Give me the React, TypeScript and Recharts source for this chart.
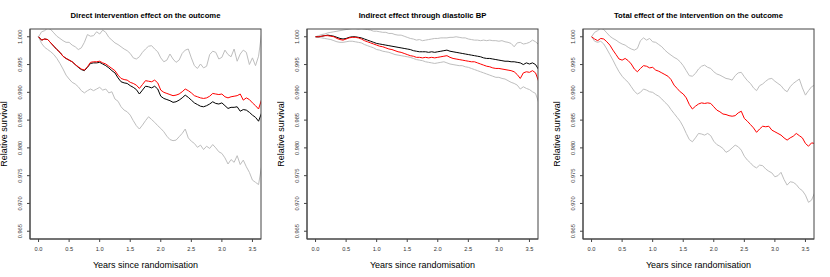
import { LineChart, Line, XAxis, YAxis } from "recharts"

// follow-up time grid (years since randomisation)
const years = [
  0, 0.05, 0.1, 0.15, 0.2, 0.25, 0.3, 0.35, 0.4, 0.45,
  0.5, 0.55, 0.6, 0.65, 0.7, 0.75, 0.8, 0.85, 0.9, 0.95,
  1.0, 1.05, 1.1, 1.15, 1.2, 1.25, 1.3, 1.35, 1.4, 1.45,
  1.5, 1.55, 1.6, 1.65, 1.7, 1.75, 1.8, 1.85, 1.9, 1.95,
  2.0, 2.05, 2.1, 2.15, 2.2, 2.25, 2.3, 2.35, 2.4, 2.45,
  2.5, 2.55, 2.6, 2.65, 2.7, 2.75, 2.8, 2.85, 2.9, 2.95,
  3.0, 3.05, 3.1, 3.15, 3.2, 3.25, 3.3, 3.35, 3.4, 3.45,
  3.5, 3.55, 3.6, 3.65,
]

const xTicks = [0, 0.5, 1, 1.5, 2, 2.5, 3, 3.5]
const yTicks = [0.965, 0.97, 0.975, 0.98, 0.985, 0.99, 0.995, 1.0]

// Direct effect
const directUpper = [
  1.0000, 1.0009, 1.0011, 1.0016, 1.0013, 1.0007, 1.0001, 0.9997, 0.9993, 0.9990,
  0.9990, 0.9985, 0.9982, 0.9977, 0.9980, 0.9990, 1.0004, 1.0001, 1.0002, 1.0009,
  1.0005, 1.0012, 1.0008, 0.9999, 0.9994, 0.9989, 0.9986, 0.9982, 0.9978, 0.9975,
  0.9970, 0.9962, 0.9960, 0.9964, 0.9972, 0.9978, 0.9983, 0.9984, 0.9978, 0.9973,
  0.9962, 0.9955, 0.9958, 0.9969, 0.9960, 0.9954, 0.9958, 0.9970, 0.9976, 0.9978,
  0.9962, 0.9948, 0.9943, 0.9951, 0.9944, 0.9947, 0.9968, 0.9974, 0.9972, 0.9960,
  0.9963, 0.9976, 0.9968, 0.9964, 0.9978, 0.9956, 0.9969, 0.9976, 0.9972, 0.9950,
  0.9962, 0.9948, 0.9965, 1.0006,
]
const directLower = [
  1.0000, 0.9988, 0.9981, 0.9977, 0.9973, 0.9968, 0.9961, 0.9952, 0.9942, 0.9931,
  0.9924, 0.9918, 0.9915, 0.9910, 0.9903, 0.9899, 0.9903, 0.9906, 0.9903, 0.9906,
  0.9909, 0.9904, 0.9906, 0.9899, 0.9901, 0.9888, 0.9884, 0.9874, 0.9868, 0.9865,
  0.9859, 0.9849, 0.9840, 0.9834, 0.9841, 0.9849, 0.9856, 0.9851, 0.9846, 0.9840,
  0.9835, 0.9829, 0.9821, 0.9815, 0.9813, 0.9814, 0.9820, 0.9826, 0.9834, 0.9818,
  0.9812, 0.9808, 0.9801, 0.9805, 0.9797, 0.9803, 0.9799, 0.9806, 0.9800, 0.9793,
  0.9790, 0.9782, 0.9771, 0.9779, 0.9774, 0.9786, 0.9770, 0.9778, 0.9766, 0.9756,
  0.9742, 0.9738, 0.9734, 0.9767,
]
const directEst = [
  1.0000, 0.9994, 0.9996, 0.9995, 0.9989, 0.9983, 0.9977, 0.9972, 0.9965, 0.9961,
  0.9958, 0.9955, 0.9950, 0.9945, 0.9941, 0.9939, 0.9945, 0.9952, 0.9953, 0.9953,
  0.9954, 0.9951, 0.9948, 0.9944, 0.9939, 0.9935, 0.9926, 0.9919, 0.9917, 0.9916,
  0.9912, 0.9909, 0.9905, 0.9897, 0.9904, 0.9911, 0.9910, 0.9908, 0.9911, 0.9906,
  0.9893, 0.9889, 0.9887, 0.9885, 0.9882, 0.9883, 0.9886, 0.9890, 0.9895, 0.9891,
  0.9886, 0.9881, 0.9878, 0.9875, 0.9874, 0.9876, 0.9879, 0.9883, 0.9880, 0.9879,
  0.9881, 0.9876, 0.9871, 0.9873, 0.9873, 0.9874, 0.9866, 0.9869, 0.9868, 0.9864,
  0.9859, 0.9855, 0.9848, 0.9863,
]
const directAlt = [
  1.0000, 0.9994, 0.9996, 0.9995, 0.9989, 0.9983, 0.9977, 0.9972, 0.9965, 0.9961,
  0.9958, 0.9955, 0.9950, 0.9946, 0.9942, 0.9940, 0.9946, 0.9954, 0.9955, 0.9955,
  0.9956, 0.9953, 0.9951, 0.9947, 0.9943, 0.9939, 0.9931, 0.9925, 0.9923, 0.9922,
  0.9918, 0.9916, 0.9913, 0.9907, 0.9914, 0.9921, 0.9920, 0.9919, 0.9922, 0.9917,
  0.9904, 0.9900, 0.9898, 0.9896, 0.9894, 0.9895, 0.9897, 0.9901, 0.9906, 0.9903,
  0.9899, 0.9894, 0.9892, 0.9890, 0.9889, 0.9890, 0.9893, 0.9898, 0.9897, 0.9896,
  0.9897, 0.9892, 0.9890, 0.9892, 0.9893, 0.9894, 0.9897, 0.9886, 0.9890, 0.9887,
  0.9881, 0.9876, 0.9870, 0.9887,
]

// Indirect effect through diastolic BP
const indirectUpper = [
  1.0000, 1.0002, 1.0004, 1.0005, 1.0007, 1.0008, 1.0009, 1.0010, 1.0011, 1.0012,
  1.0013, 1.0014, 1.0015, 1.0015, 1.0014, 1.0015, 1.0014, 1.0013, 1.0012, 1.0010,
  1.0010, 1.0009, 1.0008, 1.0008, 1.0006, 1.0006, 1.0004, 1.0003, 1.0003, 1.0001,
  0.9999, 0.9997, 0.9996, 0.9994, 0.9995, 0.9993, 0.9994, 0.9995, 0.9996, 0.9997,
  0.9997, 0.9998, 0.9998, 0.9998, 0.9999, 0.9999, 1.0000, 0.9999, 0.9998, 0.9998,
  0.9996, 0.9995, 0.9994, 0.9994, 0.9993, 0.9994, 0.9993, 0.9994, 0.9993, 0.9993,
  0.9992, 0.9993, 0.9991, 0.9990, 0.9988, 0.9982, 0.9989, 0.9990, 0.9987, 0.9988,
  0.9990, 0.9994, 0.9991, 0.9986,
]
const indirectLower = [
  1.0000, 0.9999, 0.9998, 0.9997, 0.9996, 0.9995, 0.9993, 0.9991, 0.9990, 0.9990,
  0.9991, 0.9992, 0.9992, 0.9991, 0.9990, 0.9989, 0.9986, 0.9984, 0.9982, 0.9980,
  0.9977, 0.9976, 0.9974, 0.9973, 0.9972, 0.9970, 0.9968, 0.9967, 0.9966, 0.9965,
  0.9964, 0.9963, 0.9961, 0.9959, 0.9958, 0.9957, 0.9955, 0.9954, 0.9953, 0.9952,
  0.9953, 0.9954, 0.9955, 0.9953, 0.9951, 0.9950, 0.9949, 0.9948, 0.9948, 0.9946,
  0.9945, 0.9943, 0.9941, 0.9939, 0.9937, 0.9935, 0.9933, 0.9931, 0.9929, 0.9927,
  0.9927, 0.9925, 0.9924, 0.9921, 0.9918, 0.9916, 0.9913, 0.9906, 0.9910, 0.9907,
  0.9905, 0.9901, 0.9898, 0.9882,
]
const indirectEst = [
  1.0000, 1.0000, 1.0001, 1.0002, 1.0003, 1.0002, 1.0001, 0.9999, 0.9997, 0.9996,
  0.9997, 0.9999, 1.0000, 1.0000, 0.9999, 0.9998, 0.9996, 0.9994, 0.9992, 0.9990,
  0.9988, 0.9987, 0.9986, 0.9985, 0.9984, 0.9983, 0.9982, 0.9981, 0.9980, 0.9979,
  0.9978, 0.9977, 0.9975, 0.9974, 0.9973, 0.9973, 0.9973, 0.9972, 0.9973, 0.9972,
  0.9973, 0.9974, 0.9975, 0.9976, 0.9974, 0.9973, 0.9972, 0.9971, 0.9970, 0.9969,
  0.9968, 0.9967, 0.9966, 0.9965, 0.9964, 0.9962, 0.9961, 0.9961, 0.9960, 0.9959,
  0.9958, 0.9957, 0.9956, 0.9956, 0.9955, 0.9955, 0.9954, 0.9953, 0.9950, 0.9953,
  0.9951, 0.9953, 0.9950, 0.9941,
]
const indirectAlt = [
  1.0000, 1.0000, 1.0001, 1.0002, 1.0002, 1.0001, 1.0000, 0.9997, 0.9995, 0.9994,
  0.9996, 0.9998, 0.9999, 0.9999, 0.9998, 0.9996, 0.9993, 0.9991, 0.9989, 0.9987,
  0.9985, 0.9983, 0.9982, 0.9980, 0.9978, 0.9977, 0.9975, 0.9973, 0.9972, 0.9970,
  0.9968, 0.9966, 0.9965, 0.9963, 0.9963, 0.9962, 0.9963, 0.9962, 0.9963, 0.9962,
  0.9963, 0.9964, 0.9965, 0.9966, 0.9963, 0.9961, 0.9960, 0.9959, 0.9958, 0.9957,
  0.9956, 0.9955, 0.9955, 0.9953, 0.9951, 0.9949, 0.9947, 0.9946, 0.9944, 0.9943,
  0.9943, 0.9942, 0.9941, 0.9940, 0.9939, 0.9937, 0.9932, 0.9925, 0.9935, 0.9937,
  0.9936, 0.9939, 0.9935, 0.9920,
]

// Total effect
const totalUpper = [
  1.0000, 1.0008, 1.0011, 1.0016, 1.0013, 1.0007, 1.0001, 0.9997, 0.9994, 0.9990,
  0.9987, 0.9985, 0.9981, 0.9978, 0.9976, 0.9979, 0.9993, 0.9998, 0.9994, 0.9997,
  0.9991, 0.9990, 0.9986, 0.9982, 0.9976, 0.9971, 0.9967, 0.9963, 0.9960, 0.9955,
  0.9948, 0.9939, 0.9930, 0.9929, 0.9934, 0.9942, 0.9947, 0.9949, 0.9945, 0.9943,
  0.9937, 0.9933, 0.9931, 0.9928, 0.9925, 0.9924, 0.9922, 0.9930, 0.9935, 0.9936,
  0.9928, 0.9921, 0.9916, 0.9908, 0.9903, 0.9912, 0.9915, 0.9920, 0.9924, 0.9925,
  0.9920, 0.9916, 0.9912, 0.9905, 0.9901, 0.9910, 0.9916, 0.9920, 0.9924, 0.9908,
  0.9895, 0.9903, 0.9910, 0.9913,
]
const totalLower = [
  1.0000, 0.9992, 0.9990, 0.9992, 0.9987, 0.9978, 0.9968, 0.9958, 0.9947, 0.9937,
  0.9929, 0.9923, 0.9918, 0.9910, 0.9902, 0.9897, 0.9900, 0.9906, 0.9904, 0.9901,
  0.9900, 0.9896, 0.9893, 0.9888, 0.9882, 0.9877, 0.9869, 0.9862, 0.9855, 0.9848,
  0.9838, 0.9826, 0.9815, 0.9811, 0.9818, 0.9826, 0.9825, 0.9823, 0.9826, 0.9822,
  0.9812, 0.9806, 0.9803, 0.9799, 0.9792, 0.9795, 0.9800, 0.9805, 0.9802, 0.9796,
  0.9785, 0.9778, 0.9773, 0.9767, 0.9764, 0.9769, 0.9768, 0.9762, 0.9758, 0.9755,
  0.9748, 0.9750, 0.9756, 0.9743, 0.9733, 0.9739, 0.9738, 0.9734, 0.9727, 0.9723,
  0.9715, 0.9702, 0.9706, 0.9719,
]
const totalEst = [
  1.0000, 0.9996, 0.9993, 0.9997, 0.9996, 0.9991, 0.9985, 0.9976, 0.9968, 0.9960,
  0.9958, 0.9961, 0.9957, 0.9951, 0.9942, 0.9937, 0.9943, 0.9948, 0.9947, 0.9944,
  0.9945, 0.9940, 0.9938, 0.9935, 0.9932, 0.9929, 0.9923, 0.9913, 0.9907, 0.9901,
  0.9897, 0.9890, 0.9878, 0.9870, 0.9875, 0.9879, 0.9881, 0.9880, 0.9881, 0.9880,
  0.9874, 0.9868, 0.9865, 0.9861, 0.9860, 0.9858, 0.9857, 0.9858, 0.9863, 0.9866,
  0.9853, 0.9848, 0.9842, 0.9836, 0.9828, 0.9834, 0.9839, 0.9838, 0.9839, 0.9832,
  0.9829, 0.9826, 0.9823, 0.9818, 0.9814, 0.9818, 0.9821, 0.9826, 0.9822, 0.9818,
  0.9808, 0.9803, 0.9809, 0.9808,
]

const FONT = "'Liberation Sans', Arial, Helvetica, sans-serif"
const W = 277
const H = 277
const M = { top: 29, right: 16, bottom: 38, left: 30 } // plot box inside each panel
const X_DOMAIN = [-0.14, 3.64]
const Y_DOMAIN = [0.9636, 1.0014]
const AXIS = "#444"
const GREY = "#bebebe"

function XTick({ x, y, payload }: any) {
  return (
    <text x={x} y={y} dy="0.71em" textAnchor="middle" fontSize={5.7} fill="#333" fontFamily={FONT}>
      {Number(payload.value).toFixed(1)}
    </text>
  )
}

function YTick({ x, y, payload }: any) {
  return (
    <text
      x={x}
      y={y}
      transform={`rotate(-90 ${x} ${y})`}
      textAnchor="middle"
      fontSize={5.7}
      fill="#333"
      fontFamily={FONT}
    >
      {Number(payload.value).toFixed(3)}
    </text>
  )
}

interface Series {
  key: string
  values: number[]
  color: string
}

function Panel({ title, series, left }: { title: string; series: Series[]; left: number }) {
  const data = years.map((t, i) => {
    const row: Record<string, number> = { t }
    series.forEach((s) => (row[s.key] = s.values[i]))
    return row
  })
  const plotW = W - M.left - M.right
  const plotH = H - M.top - M.bottom
  const cx = M.left + plotW / 2
  return (
    <div style={{ position: "absolute", left, top: 0, width: W, height: H }}>
      <LineChart width={W} height={H} data={data} margin={{ top: M.top, right: M.right, bottom: 0, left: 0 }}>
        <XAxis
          dataKey="t"
          type="number"
          domain={X_DOMAIN}
          allowDataOverflow
          ticks={xTicks}
          interval={0}
          height={M.bottom}
          tickSize={3}
          tickMargin={5}
          tick={<XTick />}
          axisLine={{ stroke: AXIS }}
          tickLine={{ stroke: AXIS }}
        />
        <YAxis
          type="number"
          domain={Y_DOMAIN}
          allowDataOverflow
          ticks={yTicks}
          interval={0}
          width={M.left}
          tickSize={3}
          tickMargin={5}
          tick={<YTick />}
          axisLine={{ stroke: AXIS }}
          tickLine={{ stroke: AXIS }}
        />
        {series.map((s) => (
          <Line
            key={s.key}
            type="linear"
            dataKey={s.key}
            stroke={s.color}
            strokeWidth={1}
            dot={false}
            isAnimationActive={false}
          />
        ))}
      </LineChart>
      <svg width={W} height={H} style={{ position: "absolute", left: 0, top: 0, pointerEvents: "none" }}>
        {/* plot frame, as R's box() */}
        <rect x={M.left} y={M.top} width={plotW} height={plotH} fill="none" stroke={AXIS} strokeWidth={1} />
        <text x={cx} y={18} textAnchor="middle" fontSize={7.7} fontWeight="bold" fontFamily={FONT} fill="#000">
          {title}
        </text>
        <text x={cx} y={268} textAnchor="middle" fontSize={9} fontFamily={FONT} fill="#000">
          Years since randomisation
        </text>
        <text
          x={7}
          y={M.top + plotH / 2}
          transform={`rotate(-90 7 ${M.top + plotH / 2})`}
          textAnchor="middle"
          fontSize={9}
          fontFamily={FONT}
          fill="#000"
        >
          Relative survival
        </text>
      </svg>
    </div>
  )
}

export default function App() {
  return (
    <div style={{ position: "absolute", left: 0, top: 0, width: 830, height: 277, overflow: "hidden", background: "#fff" }}>
      <Panel
        left={0}
        title="Direct intervention effect on the outcome"
        series={[
          { key: "upper", values: directUpper, color: GREY },
          { key: "lower", values: directLower, color: GREY },
          { key: "est", values: directEst, color: "#000" },
          { key: "alt", values: directAlt, color: "#ff0000" },
        ]}
      />
      <Panel
        left={277}
        title="Indirect effect through diastolic BP"
        series={[
          { key: "upper", values: indirectUpper, color: GREY },
          { key: "lower", values: indirectLower, color: GREY },
          { key: "est", values: indirectEst, color: "#000" },
          { key: "alt", values: indirectAlt, color: "#ff0000" },
        ]}
      />
      <Panel
        left={553}
        title="Total effect of the intervention on the outcome"
        series={[
          { key: "upper", values: totalUpper, color: GREY },
          { key: "lower", values: totalLower, color: GREY },
          { key: "est", values: totalEst, color: "#ff0000" },
        ]}
      />
    </div>
  )
}
